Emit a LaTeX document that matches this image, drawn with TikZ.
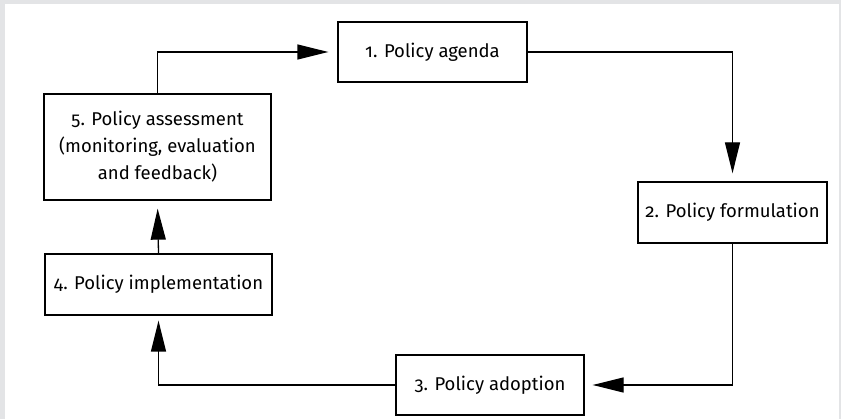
\documentclass[tikz,border=0pt]{standalone}
\usepackage{fontspec}
\setmainfont{Fira Sans}[Numbers=OldStyle]
\usetikzlibrary{arrows.meta}
\definecolor{framegray}{HTML}{E3E4E6}
\begin{document}
\begin{tikzpicture}[x=1pt,y=-1pt,
  stage/.style={draw, line width=1.3pt, fill=white, inner sep=0pt,
    align=center, font=\fontsize{18.5}{27}\selectfont},
  flow/.style={line width=1.3pt, -{Triangle[length=31pt,width=15pt]}}]
  % page frame
  \fill[framegray] (0,0) rectangle (841,419);
  \fill[white] (5,4) rectangle (839,419);
  \useasboundingbox (0,0) rectangle (841,419);

  % stages of the cycle
  \node[stage, minimum width=189pt, minimum height=60pt] (agenda) at (432.5,52) {1. Policy agenda};
  \node[stage, minimum width=189pt, minimum height=61pt] (formul) at (732.5,212.5) {2. Policy formulation};
  \node[stage, minimum width=188pt, minimum height=60pt] (adopt) at (490,385) {3. Policy adoption};
  \node[stage, minimum width=227pt, minimum height=61pt] (implem) at (158.5,284.5) {4. Policy implementation};
  \node[stage, minimum width=227pt, minimum height=106pt] (assess) at (157.5,147)
    {5. Policy assessment\\(monitoring, evaluation\\and feedback)};

  % connectors
  \draw[flow, shorten >=9pt] (assess.north) |- (agenda.west);
  \draw[flow, shorten >=8pt] (agenda.east) -| (formul.north);
  \draw[flow, shorten >=8pt] (formul.south) |- (adopt.east);
  \draw[flow, shorten >=5pt] (adopt.west) -| (implem.south);
  \draw[flow, shorten >=8pt] (implem.north) -- (assess.south);
\end{tikzpicture}
\end{document}
